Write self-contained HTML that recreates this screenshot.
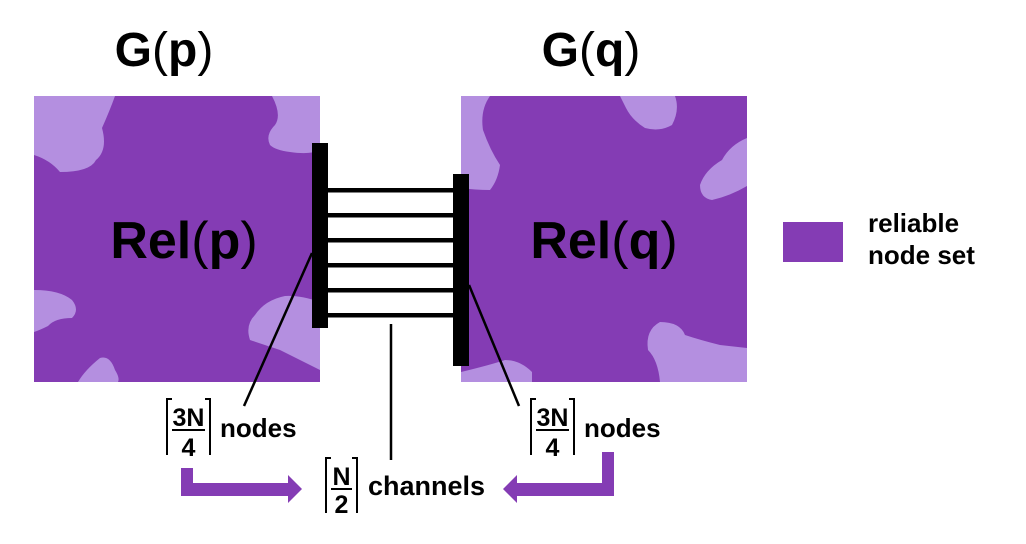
<!DOCTYPE html>
<html><head><style>body{margin:0;background:#fff}svg{display:block}text{font-family:"Liberation Sans",Arial,sans-serif;font-weight:bold;fill:#000}</style></head><body>
<svg width="1026" height="544" viewBox="0 0 1026 544" xmlns="http://www.w3.org/2000/svg">
<defs>
<clipPath id="cl"><rect x="34" y="96" width="286" height="286"/></clipPath>
<clipPath id="cr"><rect x="461" y="96" width="286" height="286"/></clipPath>
</defs>
<rect x="34" y="96" width="286" height="286" fill="#843cb4"/>
<g clip-path="url(#cl)" fill="#b48fe0">
<path d="M34,96 L115,96 Q110,110 102,128 Q108,150 96,160 Q90,172 60,172 Q50,160 34,155 Z"/>
<path d="M272,96 L320,96 L320,150 Q310,155 290,152 Q275,150 270,145 Q265,135 275,125 Q282,115 272,96 Z"/>
<path d="M34,290 Q60,290 72,300 Q80,310 72,318 Q55,318 48,326 Q40,330 34,332 Z"/>
<path d="M320,302 Q300,295 285,296 Q265,300 255,315 Q245,325 250,340 Q265,345 280,350 Q300,360 320,370 Z"/>
<path d="M78,382 Q85,370 100,358 Q110,355 115,370 Q120,378 118,382 Z"/>
</g>
<rect x="461" y="96" width="286" height="286" fill="#843cb4"/>
<g clip-path="url(#cr)" fill="#b48fe0">
<path d="M461,96 L490,96 Q480,110 483,130 Q490,150 500,165 Q498,180 490,190 Q475,190 461,188 Z"/>
<path d="M620,96 L675,96 Q680,110 672,125 Q660,132 645,128 Q632,120 626,108 Z"/>
<path d="M747,138 Q730,145 722,160 Q705,170 700,185 Q700,198 712,200 Q730,196 747,186 Z"/>
<path d="M747,348 L747,382 L660,382 Q658,360 648,350 Q645,330 660,322 Q680,322 685,335 Q700,340 720,345 Z"/>
<path d="M461,372 Q490,365 505,360 Q520,360 532,372 L532,382 L461,382 Z"/>
</g>
<text x="164" y="66" font-size="48" text-anchor="middle">G<tspan font-weight="normal">(</tspan>p<tspan font-weight="normal">)</tspan></text>
<text x="591" y="66" font-size="48" text-anchor="middle">G<tspan font-weight="normal">(</tspan>q<tspan font-weight="normal">)</tspan></text>
<text x="184" y="258" font-size="52" text-anchor="middle">Rel<tspan font-weight="normal">(</tspan>p<tspan font-weight="normal">)</tspan></text>
<text x="604" y="258" font-size="52" text-anchor="middle">Rel<tspan font-weight="normal">(</tspan>q<tspan font-weight="normal">)</tspan></text>
<g fill="#000">
<rect x="312" y="143" width="16" height="185"/>
<rect x="453" y="174" width="16" height="192"/>
<rect x="328" y="188" width="125" height="4.5"/>
<rect x="328" y="213" width="125" height="4.5"/>
<rect x="328" y="238" width="125" height="4.5"/>
<rect x="328" y="263" width="125" height="4.5"/>
<rect x="328" y="288" width="125" height="4.5"/>
<rect x="328" y="313" width="125" height="4.5"/>
</g>
<g stroke="#000" stroke-width="2.5">
<line x1="312" y1="253" x2="244" y2="406"/>
<line x1="469" y1="285" x2="519" y2="406"/>
<line x1="391" y1="324" x2="391" y2="460"/>
</g>
<rect x="783" y="222" width="60" height="40" fill="#843cb4"/>
<text x="868" y="232" font-size="26">reliable</text>
<text x="868" y="264" font-size="26">node set</text>
<g stroke="#000" stroke-width="2" fill="none">
<path d="M167,455 V399 H172"/><path d="M210,455 V399 H205"/>
<path d="M531,455 V399 H536"/><path d="M574,455 V399 H569"/>
<path d="M326,513 V458 H331"/><path d="M357,513 V458 H352"/>
</g>
<g stroke="#000" stroke-width="2">
<line x1="172" y1="430" x2="205" y2="430"/>
<line x1="536" y1="430" x2="569" y2="430"/>
<line x1="331" y1="489" x2="352" y2="489"/>
</g>
<text x="188.5" y="426" font-size="25" text-anchor="middle">3N</text>
<text x="188.5" y="456" font-size="25" text-anchor="middle">4</text>
<text x="552.5" y="426" font-size="25" text-anchor="middle">3N</text>
<text x="552.5" y="456" font-size="25" text-anchor="middle">4</text>
<text x="341.5" y="485" font-size="25" text-anchor="middle">N</text>
<text x="341.5" y="513" font-size="25" text-anchor="middle">2</text>
<text x="220" y="437" font-size="26">nodes</text>
<text x="584" y="437" font-size="26">nodes</text>
<text x="368" y="495" font-size="27">channels</text>
<g fill="#843cb4">
<path d="M181,468 H193 V483 H288 V475 L302,489 L288,503 V496 H181 Z"/>
<path d="M614,452 H602 V483 H517 V475 L503,489 L517,503 V496 H614 Z"/>
</g>
</svg>
</body></html>
